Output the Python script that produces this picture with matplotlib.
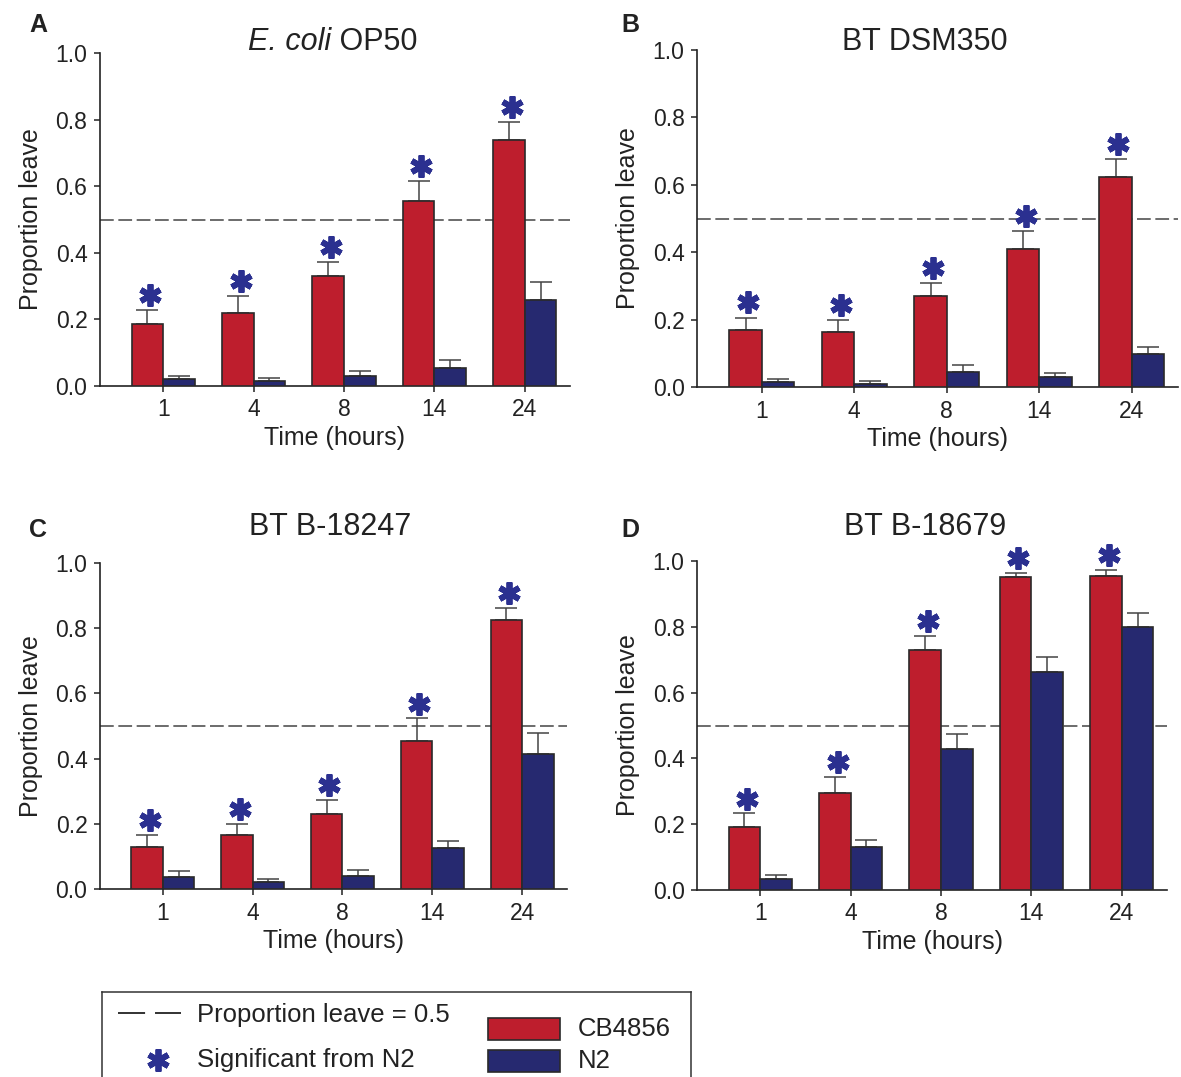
import numpy as np
import matplotlib
matplotlib.use("Agg")
import matplotlib.pyplot as plt
from matplotlib.patches import Rectangle
from matplotlib.lines import Line2D

plt.rcParams['font.family'] = ['Liberation Sans', 'DejaVu Sans']

# ---------------- data ----------------
times = ["1", "4", "8", "14", "24"]
titles = ["E. coli", "BT DSM350", "BT B-18247", "BT B-18679"]
title_A_suffix = "OP50"
panel_letters = ["A", "B", "C", "D"]

cb_A = [0.185, 0.220, 0.330, 0.555, 0.739]
cb_A_err = [0.042, 0.049, 0.041, 0.060, 0.055]
n2_A = [0.020, 0.015, 0.030, 0.055, 0.257]
n2_A_err = [0.011, 0.010, 0.015, 0.022, 0.054]

cb_B = [0.169, 0.164, 0.269, 0.409, 0.624]
cb_B_err = [0.037, 0.035, 0.040, 0.054, 0.053]
n2_B = [0.014, 0.008, 0.044, 0.029, 0.099]
n2_B_err = [0.009, 0.009, 0.021, 0.012, 0.021]

cb_C = [0.130, 0.165, 0.231, 0.455, 0.825]
cb_C_err = [0.037, 0.035, 0.042, 0.069, 0.037]
n2_C = [0.036, 0.020, 0.041, 0.126, 0.415]
n2_C_err = [0.018, 0.010, 0.017, 0.022, 0.064]

cb_D = [0.190, 0.296, 0.730, 0.951, 0.955]
cb_D_err = [0.043, 0.047, 0.042, 0.013, 0.019]
n2_D = [0.034, 0.130, 0.428, 0.663, 0.800]
n2_D_err = [0.013, 0.023, 0.046, 0.044, 0.042]

sig_A = [True, True, True, True, True]
sig_B = [True, True, True, True, True]
sig_C = [True, True, True, True, True]
sig_D = [True, True, True, True, True]

threshold = 0.5
yticks = [0.0, 0.2, 0.4, 0.6, 0.8, 1.0]

# ---------------- style ----------------
RED = "#be1e2d"
BLUE = "#262970"
STAR = "#2b3090"
EDGE = "#2a2a2a"
TXT = "#222222"
W, H = 1181, 1077

fig = plt.figure(figsize=(W / 100, H / 100), dpi=100)

# axes boxes in pixels: left, top, right, bottom
boxes = [(100, 53, 570, 386), (697, 50, 1178, 387),
         (100, 563, 567, 889), (697, 561, 1167, 890)]
title_pos = [(248, 42), (925, 42), (330, 527), (925, 527)]
letter_pos = [(38, 25), (630, 25), (38, 530), (630, 530)]

datasets = [(cb_A, cb_A_err, n2_A, n2_A_err, sig_A),
            (cb_B, cb_B_err, n2_B, n2_B_err, sig_B),
            (cb_C, cb_C_err, n2_C, n2_C_err, sig_C),
            (cb_D, cb_D_err, n2_D, n2_D_err, sig_D)]

bw = 0.35
x = np.arange(len(times))

for i, (cb, cbe, n2, n2e, sig) in enumerate(datasets):
    l, t, r, b = boxes[i]
    ax = fig.add_axes([l / W, 1 - b / H, (r - l) / W, (b - t) / H])
    cb = np.array(cb); n2 = np.array(n2)
    ax.bar(x - bw / 2, cb, bw, color=RED, edgecolor=EDGE, linewidth=1.2, zorder=3)
    ax.bar(x + bw / 2, n2, bw, color=BLUE, edgecolor=EDGE, linewidth=1.2, zorder=3)
    ax.errorbar(x - bw / 2, cb, yerr=[np.zeros(5), cbe], fmt='none', ecolor="#444444",
                elinewidth=1.1, capsize=8, capthick=1.1, zorder=2)
    ax.errorbar(x + bw / 2, n2, yerr=[np.zeros(5), n2e], fmt='none', ecolor="#444444",
                elinewidth=1.1, capsize=8, capthick=1.1, zorder=2)
    ax.axhline(threshold, color="#444444", lw=1.1, dashes=(9, 3), zorder=1)
    for j in range(5):
        if sig[j]:
            ax.plot(x[j] - bw / 2 + 0.03, cb[j] + cbe[j] + 0.045, marker=(6, 2, 0),
                    ms=16, mew=4.2, color=STAR, clip_on=False, zorder=4)
    ax.set_xlim(-0.7, 4.5)
    ax.set_ylim(0, 1)
    ax.set_xticks(x)
    ax.set_xticklabels(times)
    ax.set_yticks(yticks)
    ax.set_yticklabels([f"{v:.1f}" for v in yticks])
    for s in ["top", "right"]:
        ax.spines[s].set_visible(False)
    for s in ["left", "bottom"]:
        ax.spines[s].set_linewidth(1.2)
        ax.spines[s].set_color(TXT)
    ax.tick_params(axis='both', direction='out', length=4, width=1.1,
                   labelsize=16.5, colors=TXT, pad=5)
    ax.set_ylabel("Proportion leave", fontsize=18, labelpad=9, color=TXT)
    ax.set_xlabel("Time (hours)", fontsize=18, labelpad=3, color=TXT)
    ax.patch.set_alpha(0)

    tx, ty = title_pos[i]
    if i == 0:
        t1 = fig.text(tx / W, 1 - ty / H, titles[i], fontsize=22, style='italic',
                      ha='left', va='center', color=TXT)
        fig.canvas.draw()
        fig.text(0, 0, " " + title_A_suffix, fontsize=22, ha='left', va='center',
                 color=TXT, transform=matplotlib.transforms.offset_copy(
                     fig.transFigure, fig=fig, x=0, y=0, units='dots'))
        ext = t1.get_window_extent(renderer=fig.canvas.get_renderer())
        fig.texts[-1].set_position((ext.x1 / W, 1 - ty / H))
        fig.texts[-1].set_transform(fig.transFigure)
    else:
        fig.text(tx / W, 1 - ty / H, titles[i], fontsize=22,
                 ha='center', va='center', color=TXT)
    lx, ly = letter_pos[i]
    fig.text(lx / W, 1 - ly / H, panel_letters[i], fontsize=18, fontweight='bold',
             ha='center', va='center', color=TXT)

# ---------------- legend box ----------------
lg = fig.add_axes([102 / W, 1 - 1100 / H, (691 - 102) / W, (1100 - 992) / H])
lg.set_xlim(102, 691)
lg.set_ylim(1100, 992)
lg.set_xticks([]); lg.set_yticks([])
for s in lg.spines.values():
    s.set_linewidth(1.1)
    s.set_color("#333333")
lg.add_line(Line2D([118, 181], [1013, 1013], color=TXT, lw=1.3, dashes=(15, 5.5)))
lg.text(197, 1015, "Proportion leave = 0.5", fontsize=18.5, va='center', ha='left', color=TXT)
lg.plot(158, 1060, marker=(6, 2, 0), ms=16, mew=4.2, color=STAR)
lg.text(197, 1060, "Significant from N2", fontsize=18.5, va='center', ha='left', color=TXT)
lg.add_patch(Rectangle((488, 1018), 72, 22, facecolor=RED, edgecolor=EDGE, lw=1.2))
lg.text(578, 1029, "CB4856", fontsize=18.5, va='center', ha='left', color=TXT)
lg.add_patch(Rectangle((488, 1050), 72, 22, facecolor=BLUE, edgecolor=EDGE, lw=1.2))
lg.text(578, 1061, "N2", fontsize=18.5, va='center', ha='left', color=TXT)

fig.savefig("out.png", dpi=100)
